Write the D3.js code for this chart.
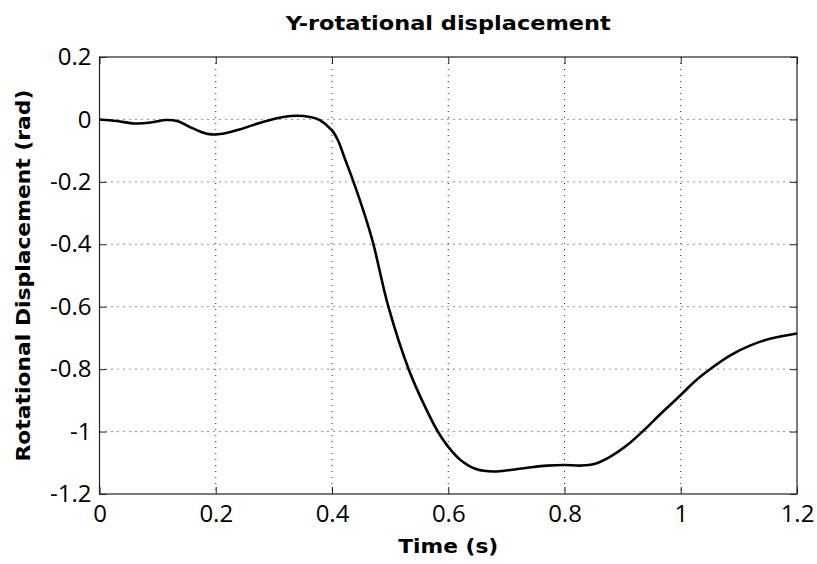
<!DOCTYPE html>
<html>
<head>
<meta charset="utf-8">
<script src="https://cdn.jsdelivr.net/npm/d3@7"></script>
<style>
  body { margin: 0; background: #fff; }
  .lbl { font-family: "DejaVu Sans", Verdana, sans-serif; font-weight: bold; fill: #000; }
</style>
</head>
<body>
<div id="chart"></div>
<script>
// time (s) and Y-rotational displacement (rad)
const timeValues = [0.000, 0.030, 0.060, 0.088, 0.115, 0.135, 0.155, 0.175, 0.192, 0.212,
    0.241, 0.281, 0.316, 0.340, 0.362, 0.379, 0.400, 0.410, 0.422, 0.437,
    0.457, 0.471, 0.497, 0.532, 0.560, 0.583, 0.600, 0.621, 0.649,
    0.678, 0.707, 0.736, 0.770, 0.800, 0.828, 0.851, 0.879, 0.908, 0.937,
    0.966, 1.000, 1.023, 1.052, 1.086, 1.121, 1.155, 1.200];
const dispValues = [0.000, -0.005, -0.013, -0.010, -0.002, -0.006, -0.024, -0.040, -0.048, -0.046,
    -0.032, -0.008, 0.008, 0.012, 0.008, -0.002, -0.035, -0.066, -0.125, -0.200,
    -0.310, -0.398, -0.600, -0.801, -0.920, -1.003, -1.049, -1.091, -1.121,
    -1.128, -1.123, -1.116, -1.109, -1.107, -1.109, -1.104, -1.080, -1.043, -0.995,
    -0.942, -0.883, -0.841, -0.798, -0.755, -0.723, -0.702, -0.686];
const xTicks = [0, 0.2, 0.4, 0.6, 0.8, 1, 1.2];
const yTicks = [0.2, 0, -0.2, -0.4, -0.6, -0.8, -1, -1.2];

const W = 817, H = 564;
const margin = { top: 57, right: 20, bottom: 70, left: 99.5 };
const width = W - margin.left - margin.right,
      height = H - margin.top - margin.bottom;

const svg = d3.select('#chart').append('svg')
    .attr('width', W)
    .attr('height', H);
const g = svg.append('g')
    .attr('transform', `translate(${margin.left},${margin.top})`);

const x = d3.scaleLinear().domain([0, 1.2]).range([0, width]);
const y = d3.scaleLinear().domain([-1.2, 0.2]).range([height, 0]);

const fmt = d => String(+d.toFixed(1));

// dotted grid
g.append('g').selectAll('line')
    .data(xTicks.slice(1, -1))
    .enter().append('line')
    .attr('x1', d => x(d)).attr('x2', d => x(d))
    .attr('y1', 0).attr('y2', height)
    .attr('stroke', '#222').attr('stroke-width', 1)
    .attr('stroke-dasharray', '1,5');
g.append('g').selectAll('line')
    .data(yTicks.slice(1, -1))
    .enter().append('line')
    .attr('x1', 0).attr('x2', width)
    .attr('y1', d => y(d)).attr('y2', d => y(d))
    .attr('stroke', '#222').attr('stroke-width', 1)
    .attr('stroke-dasharray', '1,5');

// axes, ticks pointing inward
const tl = 7;
g.append('g')
    .attr('transform', `translate(0,${height})`)
    .call(d3.axisBottom(x).tickValues(xTicks).tickSize(-tl).tickPadding(11).tickFormat(fmt))
    .call(a => a.select('.domain').remove());
g.append('g')
    .call(d3.axisTop(x).tickValues(xTicks).tickSize(-tl).tickFormat(''))
    .call(a => a.select('.domain').remove());
g.append('g')
    .call(d3.axisLeft(y).tickValues(yTicks).tickSize(-tl).tickPadding(8).tickFormat(fmt))
    .call(a => a.select('.domain').remove());
g.append('g')
    .attr('transform', `translate(${width},0)`)
    .call(d3.axisRight(y).tickValues(yTicks).tickSize(-tl).tickFormat(''))
    .call(a => a.select('.domain').remove());
g.selectAll('.tick line').attr('stroke', '#222');
g.selectAll('.tick text')
    .attr('font-family', '"Open Sans", "Noto Sans", sans-serif')
    .attr('font-size', 24)
    .style('font-size', '24px')
    .attr('fill', '#000');

g.append('rect')
    .attr('x', 0).attr('y', 0)
    .attr('width', width).attr('height', height)
    .attr('fill', 'none').attr('stroke', '#222').attr('stroke-width', 1.2);

// curve
const data = timeValues.map((t, i) => ({ t: t, v: dispValues[i] }));
const line = d3.line()
    .x(d => x(d.t))
    .y(d => y(d.v))
    .curve(d3.curveCatmullRom.alpha(0.5));
g.append('path')
    .datum(data)
    .attr('d', line)
    .attr('fill', 'none')
    .attr('stroke', '#000')
    .attr('stroke-width', 2.6);

// labels
svg.append('text')
    .attr('class', 'lbl')
    .attr('x', margin.left + width / 2)
    .attr('y', 30)
    .attr('text-anchor', 'middle')
    .attr('font-size', 20)
    .attr('textLength', 325)
    .attr('lengthAdjust', 'spacingAndGlyphs')
    .text('Y-rotational displacement');

svg.append('text')
    .attr('class', 'lbl')
    .attr('x', margin.left + width / 2)
    .attr('y', 553)
    .attr('text-anchor', 'middle')
    .attr('font-size', 20)
    .attr('textLength', 100)
    .attr('lengthAdjust', 'spacingAndGlyphs')
    .text('Time (s)');

svg.append('text')
    .attr('class', 'lbl')
    .attr('transform', `translate(30,${margin.top + height / 2}) rotate(-90)`)
    .attr('text-anchor', 'middle')
    .attr('font-size', 20)
    .attr('textLength', 372)
    .attr('lengthAdjust', 'spacingAndGlyphs')
    .text('Rotational Displacement (rad)');
</script>
</body>
</html>
